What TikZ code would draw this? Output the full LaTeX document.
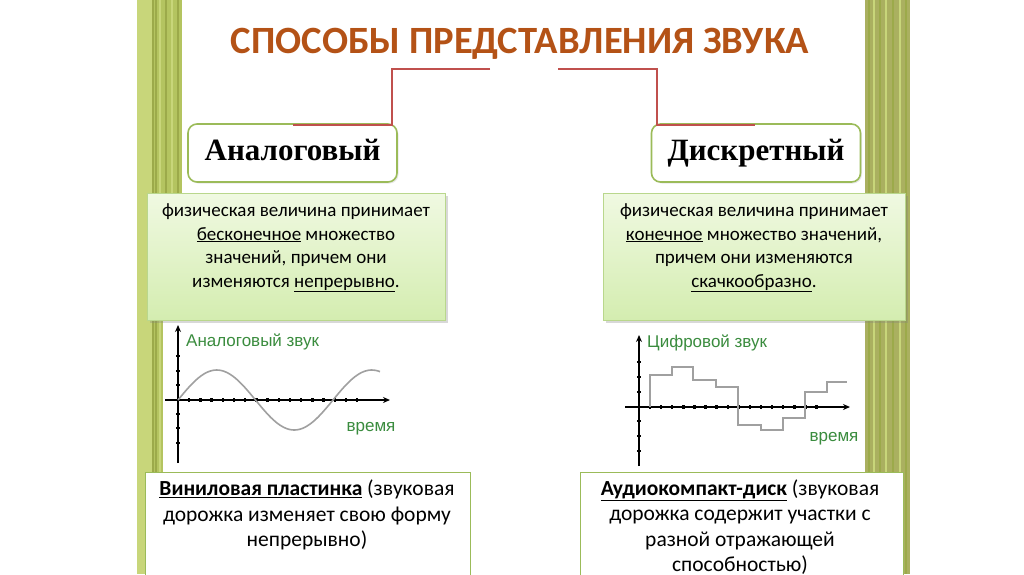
\documentclass[tikz,border=0pt]{standalone}
\usepackage{fontspec}
\setmainfont{Carlito}
\newfontfamily\serifbold{Liberation Serif}
\newfontfamily\arialfont{Liberation Sans}
\usetikzlibrary{shadows,arrows.meta}
\definecolor{titlec}{RGB}{180,82,22}
\definecolor{redline}{RGB}{192,80,77}
\definecolor{boxborder}{RGB}{155,187,89}
\definecolor{tbtop}{RGB}{240,249,226}
\definecolor{tbbot}{RGB}{212,237,176}
\definecolor{tbborder}{RGB}{185,215,140}
\definecolor{labelgreen}{RGB}{58,140,62}
\definecolor{stripebase}{RGB}{180,196,96}
\definecolor{stripedark}{RGB}{156,170,74}
\definecolor{stripelight}{RGB}{200,214,122}
\definecolor{stripeolive}{RGB}{170,176,96}
\definecolor{curvegray}{RGB}{160,160,160}
\tikzset{
  headbox/.style={draw=boxborder, line width=1.6pt, rounded corners=9pt, fill=white,
    minimum width=209pt, minimum height=58pt, inner sep=0pt, text height=21pt, text depth=7pt,
    drop shadow={opacity=0.18, shadow xshift=1.5pt, shadow yshift=-1.5pt},
    font=\serifbold\bfseries\fontsize{31}{34}\selectfont},
  infobox/.style={draw=tbborder, line width=0.8pt, top color=tbtop, bottom color=tbbot,
    inner sep=0pt, drop shadow={opacity=0.3, shadow xshift=2.5pt, shadow yshift=-2.5pt}},
  infotext/.style={align=center, font=\fontsize{19}{23.5}\selectfont, inner sep=0pt},
  bottombox/.style={draw=boxborder, line width=1.2pt, fill=white, inner sep=0pt},
  bottomtext/.style={align=center, font=\fontsize{21.5}{25.5}\selectfont, inner sep=0pt},
  connector/.style={draw=redline, line width=2.6pt},
  axis/.style={line width=1.4pt, -{Stealth[length=7pt,width=6pt]}},
  tick/.style={line width=2.4pt},
  glabel/.style={text=labelgreen, font=\arialfont\fontsize{17}{19}\selectfont, inner sep=0pt},
  curve/.style={draw=curvegray, line width=1.6pt}
}
\begin{document}
\begin{tikzpicture}[x=1pt,y=-1pt]
\useasboundingbox (0,0) rectangle (1024,574);
\fill[white] (0,0) rectangle (1024,574);
% stripes
\fill[stripebase] (137,0) rectangle (182,574);
\fill[stripelight] (137,0) rectangle (152,574);
\foreach \xx/\cc in {153/stripedark,156/stripedark,160/stripelight,166/stripedark,172/stripelight,178/stripedark}
  \draw[\cc, line width=1.2pt] (\xx,0) -- (\xx,574);
\fill[stripeolive] (865,0) rectangle (910,574);
\foreach \xx/\cc in {869/stripedark,874/stripelight,880/stripedark,886/stripelight,893/stripedark,900/stripelight,906/stripedark}
  \draw[\cc, line width=1.2pt] (\xx,0) -- (\xx,574);
% white backgrounds of the graph pictures
\fill[white] (163,318) rectangle (200,472);

% title
\node[text=titlec, font=\bfseries\fontsize{38.6}{42}\selectfont, inner sep=0pt] (title) at (520,44) {СПОСОБЫ ПРЕДСТАВЛЕНИЯ ЗВУКА};

% head boxes
\node[headbox] (analog) at (292.5,153) {Аналоговый};
\node[headbox] (discrete) at (756,153) {Дискретный};

% connectors
\coordinate (lt) at (490,69);
\coordinate (rt) at (558,69);
\coordinate (lb) at (293,125);
\coordinate (rb) at (755,125);
\draw[connector] (lt) -- (392,69) -- (392,125) -- (lb);
\draw[connector] (rt) -- (657,69) -- (657,125) -- (rb);

% info boxes
\node[infobox, minimum width=298pt, minimum height=127pt] (linfo) at (296,256.5) {};
\node[infotext] (linfotext) at (296,248) {физическая величина принимает\\ \underline{бесконечное} множество\\ значений, причем они\\ изменяются \underline{непрерывно}.};
\node[infobox, minimum width=302pt, minimum height=127pt] (rinfo) at (754,256.5) {};
\node[infotext] (rinfotext) at (754,248) {физическая величина принимает\\ \underline{конечное} множество значений,\\ причем они изменяются\\ \underline{скачкообразно}.};

% left graph
\coordinate (lo) at (178,400);
\draw[axis] (178,463) -- (178,325);
\draw[axis] (165,400) -- (390,400);
\foreach \k in {1,...,16} \draw[tick] ({178+11.2*\k},398) -- ({178+11.2*\k},402);
\foreach \yy in {356,371,385,414,428,443} \draw[tick] (176,\yy) -- (180,\yy);
\draw[curve] plot[domain=0:202, samples=90, smooth] ({178+\x},{400-30*sin(\x*2.3226)});
\node[glabel, anchor=west] (lname) at (186,342) {Аналоговый звук};
\node[glabel] (ltime) at (371,429) {время};

% right graph
\draw[axis] (639,466) -- (639,335);
\draw[axis] (625,407) -- (850,407);
\foreach \k in {0,...,15} \draw[tick] ({650+11.1*\k},405) -- ({650+11.1*\k},409);
\foreach \yy in {362,377,392,421,436,451} \draw[tick] (637,\yy) -- (641,\yy);
\draw[curve, line width=1.5pt] (650,407) -- (650,375) -- (672,375) -- (672,367) -- (693,367) -- (693,380) -- (716,380) -- (716,387) -- (738,387) -- (738,425) -- (761,425) -- (761,430) -- (783,430) -- (783,418) -- (805,418) -- (805,392) -- (827,392) -- (827,382) -- (847,382);
\node[glabel, anchor=west] (rname) at (647,343) {Цифровой звук};
\node[glabel] (rtime) at (834,439) {время};

% bottom boxes
\begin{scope}
\clip (0,0) rectangle (1024,574);
\node[bottombox, minimum width=325pt, minimum height=130pt, anchor=north west] (lbottom) at (145,472) {};
\node[bottombox, minimum width=323pt, minimum height=130pt, anchor=north west] (rbottom) at (580,472) {};
\end{scope}
\node[bottomtext, anchor=north] (lbottomtext) at (307,480) {\textbf{\underline{Виниловая пластинка}} (звуковая\\ дорожка изменяет свою форму\\ непрерывно)};
\node[bottomtext, anchor=north] (rbottomtext) at (740,479.5) {\textbf{\underline{Аудиокомпакт-диск}} (звуковая\\ дорожка содержит участки с\\ разной отражающей\\ способностью)};
\end{tikzpicture}
\end{document}
